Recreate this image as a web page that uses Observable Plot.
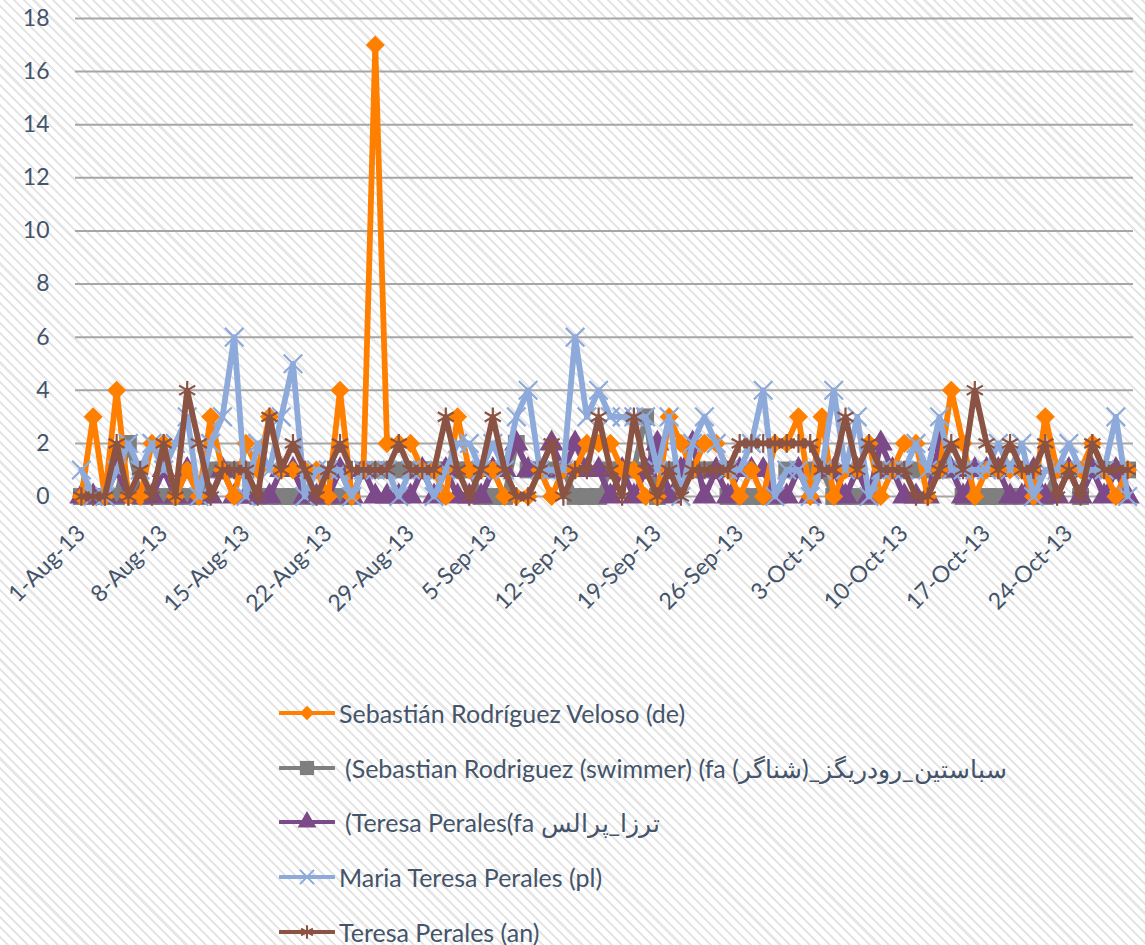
<!DOCTYPE html>
<html><head><meta charset="utf-8">
<script src="https://cdn.jsdelivr.net/npm/d3@7"></script>
<script src="https://cdn.jsdelivr.net/npm/@observablehq/plot@0.6"></script>
<style>
html,body{margin:0;padding:0;}
body{width:1145px;height:945px;overflow:hidden;position:relative;
  background:#fff repeating-linear-gradient(45deg,#ffffff 0px,#ffffff 4.8px,#e6e6e6 4.8px,#e6e6e6 7px);
  font-family:Lato,"Open Sans",sans-serif;}
#chart svg{display:block;background:transparent;}
.item{position:absolute;left:279px;height:30px;display:flex;align-items:center;font-size:25px;color:#44546a;white-space:nowrap;}
.item svg{margin-right:4px;flex:none;}
</style></head><body>
<div id="chart"></div>
<div id="legend"></div>
<script>
// x categories: day index 0..89 = 1-Aug-13 .. 29-Oct-13 (labels every 7 days)
const tickIdx = [0,7,14,21,28,35,42,49,56,63,70,77,84];
const tickLabels = ["1-Aug-13","8-Aug-13","15-Aug-13","22-Aug-13","29-Aug-13","5-Sep-13","12-Sep-13","19-Sep-13","26-Sep-13","3-Oct-13","10-Oct-13","17-Oct-13","24-Oct-13"];
const yTicks = [0,2,4,6,8,10,12,14,16,18];

const seriesNames = [
  "Sebastián Rodríguez Veloso (de)",
  "(Sebastian Rodriguez (swimmer) (fa سباستین_رودریگز_(شناگر)",
  "(Teresa Perales(fa ترزا_پرالس",
  "Maria Teresa Perales (pl)",
  "Teresa Perales (an)"
];
const colors = ["#ff7f00","#7f7f7f","#7d4a89","#8eaadb","#8b5343"];
const symbols = ["diamond2","square","triangle","times","asterisk"];

const orange = [0,3,0,4,0,0,2,2,0,1,0,3,1,0,2,1,3,1,1,1,1,0,4,0,1,17,2,2,2,1,1,0,3,1,1,1,0,0,0,1,0,1,1,2,2,2,1,1,0,0,3,2,1,2,2,1,0,1,0,2,2,3,0,3,0,1,1,2,0,1,2,2,0,1,4,2,0,1,1,1,1,0,3,1,1,1,2,1,0,1];
const gray   = [0,0,0,0,2,0,0,0,0,0,0,1,1,1,1,0,0,0,0,0,0,0,0,0,1,1,1,1,1,1,1,1,1,1,0,0,0,2,1,1,1,1,0,0,0,1,1,1,3,0,1,1,1,1,1,0,0,0,0,0,1,1,1,1,0,0,0,0,1,1,1,1,1,1,1,0,0,0,0,0,0,0,0,1,1,0,1,1,1,1];
const purple = [0,0,0,1,0,0,0,1,0,1,0,0,1,0,0,0,0,1,1,0,0,0,1,0,1,0,0,0,0,1,0,1,0,0,0,1,1,2,1,1,2,1,2,1,1,0,1,0,1,2,0,1,2,0,1,0,1,1,1,0,0,1,0,1,1,0,1,0,2,1,0,0,0,2,1,0,1,1,1,0,0,1,0,0,1,0,1,0,1,0];
const blue   = [1,0,0,1,2,1,2,1,2,3,0,2,3,6,0,2,1,3,5,0,1,1,1,0,1,1,1,0,1,1,0,1,2,2,1,2,1,3,4,1,1,1,6,3,4,3,3,3,3,1,3,0,2,3,2,1,1,2,4,0,1,1,0,1,4,1,3,0,1,1,1,2,1,3,1,1,1,1,2,1,2,0,1,1,2,1,1,1,3,0];
const brown  = [0,0,0,2,0,1,0,2,0,4,2,0,1,1,1,0,3,1,2,1,0,1,2,1,1,1,1,2,1,1,1,3,1,0,1,3,1,0,0,1,2,0,1,1,3,1,0,3,1,0,1,0,1,1,1,1,2,2,2,2,2,2,2,1,1,3,1,2,1,1,1,0,0,1,2,1,4,2,1,2,1,1,2,0,1,0,2,1,1,1];

const seriesValues = [orange, gray, purple, blue, brown];
const data = seriesValues.map(vals => vals.map((v, i) => ({i, v})));

// draw order: gray, purple, orange, blue, brown (top)
const order = [1, 2, 0, 3, 4];
const rSizes = [8.6, 9.5, 9, 8.5, 8.8];

const seriesMarks = order.flatMap(k => {
  const stroked = symbols[k] === "times" || symbols[k] === "asterisk";
  return [
    Plot.line(data[k], {x: "i", y: "v", stroke: colors[k], strokeWidth: 5.8, curve: "linear"}),
    Plot.dot(data[k], {x: "i", y: "v", symbol: () => symbols[k], r: rSizes[k],
      ...(stroked ? {stroke: colors[k], strokeWidth: 2.2, fill: "none"} : {fill: colors[k], stroke: "none"})})
  ];
});

const plot = Plot.plot({
  width: 1145, height: 650,
  marginLeft: 75, marginRight: 12, marginTop: 18, marginBottom: 154,
  style: {background: "transparent", fontFamily: "Lato, 'Open Sans', sans-serif", fontSize: "23px", color: "#44546a", overflow: "visible"},
  x: {type: "linear", domain: [-0.5, 89.5]},
  y: {domain: [0, 18]},
  symbol: {type: "identity"},
  marks: [
    Plot.gridY(yTicks, {stroke: "#a6a6a6", strokeOpacity: 1, strokeWidth: 2}),
    Plot.axisY(yTicks, {tickSize: 0, tickPadding: 26, fill: "#44546a", label: null}),
    Plot.axisX(tickIdx, {tickSize: 0, tickPadding: 33, tickRotate: -45, fill: "#44546a", label: null,
      tickFormat: d => tickLabels[tickIdx.indexOf(d)]}),
    ...seriesMarks
  ]
});
document.getElementById("chart").appendChild(plot);

// legend (HTML, below the SVG)
const legendY = [713, 768, 822, 877, 932];
const textShift = [0, 6, 6, 0, 0];
const legendR = [6.5, 8, 7, 6.5, 6.5];
const legend = document.getElementById("legend");
seriesNames.forEach((name, k) => {
  const item = document.createElement("div");
  item.className = "item";
  item.style.top = (legendY[k] - 15) + "px";
  const sw = d3.create("svg").attr("width", 56).attr("height", 30);
  sw.append("line").attr("x1", 1).attr("x2", 55).attr("y1", 15).attr("y2", 15)
    .attr("stroke", colors[k]).attr("stroke-width", 4).attr("stroke-linecap", "round");
  const symMap = {diamond2: d3.symbolDiamond2, square: d3.symbolSquare, triangle: d3.symbolTriangle, times: d3.symbolTimes, asterisk: d3.symbolAsterisk};
  const stroked = symbols[k] === "times" || symbols[k] === "asterisk";
  sw.append("path").attr("transform", "translate(28,15)")
    .attr("d", d3.symbol(symMap[symbols[k]], Math.PI * legendR[k] * legendR[k])())
    .attr("fill", stroked ? "none" : colors[k])
    .attr("stroke", stroked ? colors[k] : "none").attr("stroke-width", 2);
  item.appendChild(sw.node());
  const span = document.createElement("span");
  span.textContent = name;
  span.style.marginLeft = textShift[k] + "px";
  item.appendChild(span);
  legend.appendChild(item);
});
</script>
</body></html>
